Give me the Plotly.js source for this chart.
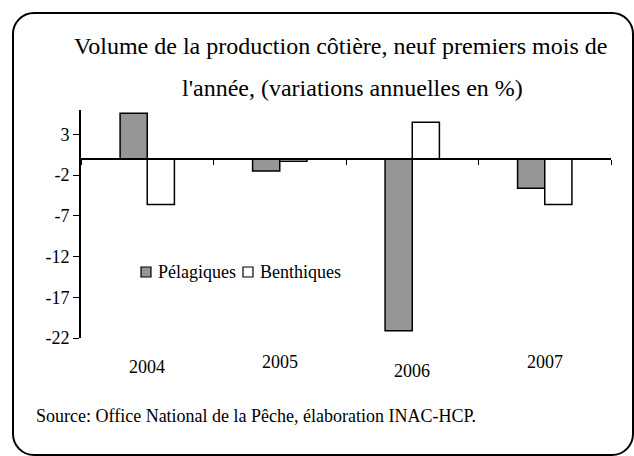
<!DOCTYPE html>
<html>
<head>
<meta charset="utf-8">
<script src="https://cdn.plot.ly/plotly-3.0.1.min.js"></script>
<style>
  body { margin: 0; background: #fff; }
  #wrap { position: relative; width: 634px; height: 456px; overflow: hidden; }
  #chart { width: 634px; height: 456px; }
  #frame {
    position: absolute; left: 12px; top: 12px;
    width: 618px; height: 440px;
    border: 2px solid #000; border-radius: 22px;
    pointer-events: none;
  }
</style>
</head>
<body>
<div id="wrap">
  <div id="chart"></div>
  <div id="frame"></div>
</div>
<script>
// data
const years = ['2004', '2005', '2006', '2007'];
const pelagiques = [5.6, -1.5, -21.1, -3.6];
const benthiques = [-5.6, -0.3, 4.5, -5.6];
const yTicks = [3, -2, -7, -12, -17, -22];

const serif = 'Liberation Serif, Times New Roman, serif';
const yMin = -22, yMax = 6;
const colors = { pel: '#969696', ben: '#ffffff' };

// year labels sit at slightly different heights under the plot
const labelY = [-0.125, -0.105, -0.145, -0.105];

// plot box in pixels, to turn pixel spots into paper coords
const plotL = 81, plotW = 530, plotB = 338, plotH = 228;
const px = x => (x - plotL) / plotW;
const py = y => (plotB - y) / plotH;

const tracePel = {
    x: years, y: pelagiques, name: 'Pélagiques', type: 'bar',
    marker: { color: colors.pel, line: { color: '#000', width: 1.5 } }
};
const traceBen = {
    x: years, y: benthiques, name: 'Benthiques', type: 'bar',
    marker: { color: colors.ben, line: { color: '#000', width: 1.5 } }
};

const annotations = [
    { text: 'Volume de la production côtière, neuf premiers mois de', x: 340, y: 46 },
    { text: "l'année, (variations annuelles en %)", x: 352, y: 88 }
].map(t => ({
    text: t.text, xref: 'paper', yref: 'paper', showarrow: false,
    x: px(t.x), y: py(t.y), xanchor: 'center', yanchor: 'middle',
    font: { family: serif, size: 24, color: '#000' }
}));

// category index used for x so the labels stay on the category axis
years.forEach((yr, i) => {
    annotations.push({
        text: yr, x: i, xref: 'x', y: labelY[i], yref: 'paper',
        showarrow: false, xanchor: 'center', yanchor: 'middle',
        font: { family: serif, size: 18, color: '#000' }
    });
});

annotations.push({
    text: 'Source: Office National de la Pêche, élaboration INAC-HCP.',
    xref: 'paper', yref: 'paper', x: px(34), y: py(416),
    xanchor: 'left', yanchor: 'middle', showarrow: false,
    font: { family: serif, size: 18, color: '#000' }
});

// legend drawn by hand, Excel style: small box right next to the name
const legendItems = [
    { name: tracePel.name, color: colors.pel, x: 141 },
    { name: traceBen.name, color: colors.ben, x: 243 }
];
const legendY = 272;
const shapes = [];
legendItems.forEach(it => {
    shapes.push({
        type: 'rect', xref: 'paper', yref: 'paper',
        x0: px(it.x), x1: px(it.x + 10), y0: py(legendY + 5), y1: py(legendY - 5),
        fillcolor: it.color, line: { color: '#000', width: 1.2 }
    });
    annotations.push({
        text: it.name, xref: 'paper', yref: 'paper', x: px(it.x + 15), y: py(legendY),
        xanchor: 'left', yanchor: 'middle', showarrow: false,
        font: { family: serif, size: 18, color: '#000' }
    });
});

const layout = {
    width: 634, height: 456,
    margin: { l: plotL, r: 634 - plotL - plotW, t: plotB - plotH, b: 456 - plotB },
    paper_bgcolor: '#fff', plot_bgcolor: '#fff',
    font: { family: serif, size: 18, color: '#000' },
    barmode: 'group', bargap: 0.59, bargroupgap: 0,
    showlegend: false,
    xaxis: {
        type: 'category', range: [-0.5, 3.5], anchor: 'free', position: (0 - yMin) / (yMax - yMin),
        showline: true, linecolor: '#000', linewidth: 2,
        ticks: 'outside', tickson: 'boundaries', ticklen: 5, tickwidth: 1, tickcolor: '#000',
        showticklabels: false, showgrid: false, zeroline: false, fixedrange: true
    },
    yaxis: {
        range: [yMin, yMax], tickvals: yTicks, ticktext: yTicks.map(String),
        showline: true, linecolor: '#000', linewidth: 2,
        ticks: 'outside', ticklen: 6, tickwidth: 1, tickcolor: '#000',
        showgrid: false, zeroline: false, fixedrange: true,
        tickfont: { family: serif, size: 18, color: '#000' }
    },
    shapes: shapes,
    annotations: annotations
};

Plotly.newPlot('chart', [tracePel, traceBen], layout, { displayModeBar: false, staticPlot: true });
</script>
</body>
</html>
